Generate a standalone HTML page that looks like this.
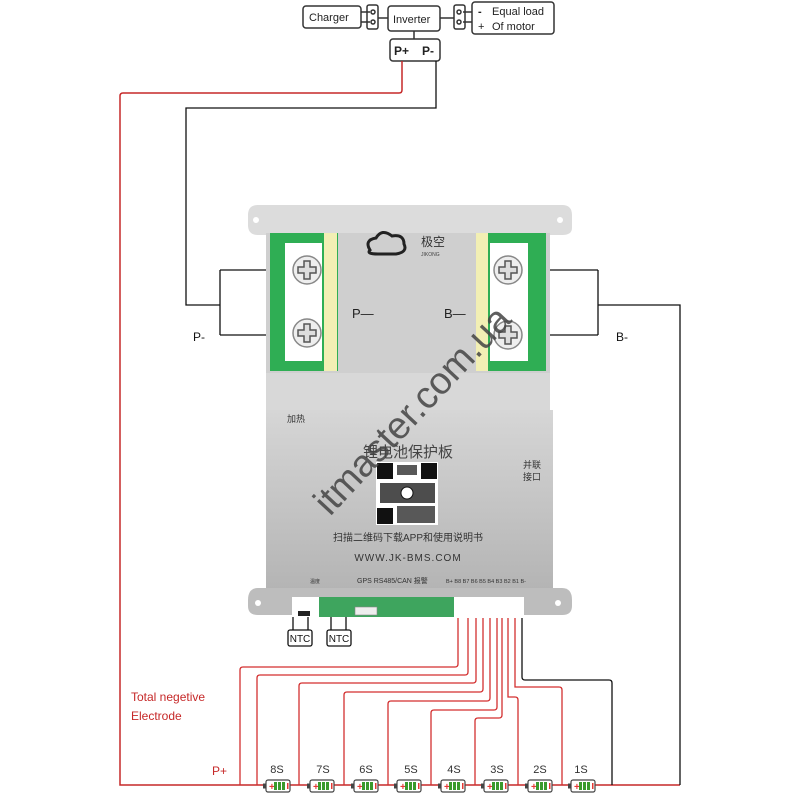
<!DOCTYPE html>
<html><head><meta charset="utf-8"><style>
html,body{margin:0;padding:0;background:#fff}
svg{display:block}
text{font-family:"Liberation Sans","Noto Sans CJK SC",sans-serif}
.s{font-family:"Liberation Serif","Noto Serif CJK SC",serif}
</style></head><body>
<svg width="800" height="800" viewBox="0 0 800 800" xmlns="http://www.w3.org/2000/svg">
<defs>
<linearGradient id="body" x1="0" y1="0" x2="0" y2="1"><stop offset="0" stop-color="#d6d6d6"/><stop offset="1" stop-color="#b4b4b4"/></linearGradient>
<g id="screw"><circle r="14" fill="#eee" stroke="#888" stroke-width="1.5"/><path d="M-3,-9 h6 v6 h6 v6 h-6 v6 h-6 v-6 h-6 v-6 h6z" fill="#ddd" stroke="#555" stroke-width="1.5"/></g>
<g id="bat"><rect x="-12" y="-6" width="24" height="12" rx="2" fill="#fff" stroke="#444" stroke-width="1.2"/><rect x="-15" y="-2.5" width="3" height="5" fill="#444"/><text x="-9" y="4" font-size="10" fill="#e53935" font-weight="bold">+</text><rect x="-4" y="-4" width="3" height="8" fill="#3a9a2c"/><rect x="0" y="-4" width="3" height="8" fill="#3a9a2c"/><rect x="4" y="-4" width="3" height="8" fill="#3a9a2c"/><rect x="9" y="-3" width="1.5" height="6" fill="#e53935"/></g>
</defs>

<!-- top diagram -->
<g stroke="#333" stroke-width="1.5" fill="#fff">
<rect x="303" y="6" width="58" height="22" rx="3"/>
<rect x="367" y="5" width="11" height="24" rx="2"/>
<rect x="388" y="6" width="52" height="25" rx="3"/>
<rect x="454" y="5" width="11" height="24" rx="2"/>
<rect x="472" y="2" width="82" height="32" rx="3"/>
<rect x="390" y="39" width="50" height="22" rx="3"/>
</g>
<g stroke="#333" stroke-width="1.5" fill="none">
<line x1="361" y1="12" x2="370" y2="12"/><line x1="361" y1="22" x2="370" y2="22"/>
<line x1="378" y1="18" x2="388" y2="18"/><line x1="440" y1="18" x2="454" y2="18"/>
<line x1="463" y1="12" x2="472" y2="12"/><line x1="463" y1="22" x2="472" y2="22"/>
<line x1="414" y1="31" x2="414" y2="39"/>
<circle cx="373" cy="12" r="2"/><circle cx="373" cy="22" r="2"/>
<circle cx="459" cy="12" r="2"/><circle cx="459" cy="22" r="2"/>
</g>
<g font-size="11" fill="#222">
<text x="309" y="21">Charger</text>
<text x="393" y="23">Inverter</text>
<text x="478" y="15" font-weight="bold">-</text><text x="492" y="15">Equal load</text>
<text x="478" y="30">+</text><text x="492" y="30">Of motor</text>
<text x="394" y="55" font-size="12" font-weight="bold">P+</text><text x="422" y="55" font-size="12" font-weight="bold">P-</text>
</g>

<!-- main wires -->
<path d="M402,61 V90 Q402,93 399,93 H123 Q120,93 120,96 V785 H680" stroke="#c62828" stroke-width="1.5" fill="none"/>
<path d="M436,61 V108 H186 V305 H220 M220,270 V335 M220,270 H300 M220,335 H300" stroke="#111" stroke-width="1.3" fill="none"/>
<path d="M598,270 V335 M515,270 H598 M515,335 H598 M598,305 H680 V785" stroke="#111" stroke-width="1.3" fill="none"/>
<text x="193" y="341" font-size="12" fill="#111">P-</text>
<text x="616" y="341" font-size="12" fill="#111">B-</text>

<!-- board -->
<path d="M258,205 H562 Q572,205 572,215 V228 Q572,235 562,235 H550 V590 H266 V235 H258 Q248,235 248,225 V215 Q248,205 258,205Z" fill="#dcdcdc"/>
<circle cx="256" cy="220" r="3" fill="#fff"/><circle cx="560" cy="220" r="3" fill="#fff"/>
<rect x="266" y="233" width="284" height="140" fill="#cfcfcf"/>
<rect x="270" y="233" width="68" height="138" fill="#2fae54"/>
<rect x="285" y="243" width="37" height="118" fill="#fff"/>
<rect x="324" y="233" width="13" height="138" fill="#f2efb4"/>
<rect x="476" y="233" width="70" height="138" fill="#2fae54"/>
<rect x="476" y="233" width="12" height="138" fill="#f2efb4"/>
<rect x="490" y="243" width="38" height="118" fill="#fff"/>
<use href="#screw" x="307" y="270"/><use href="#screw" x="307" y="333"/>
<use href="#screw" x="508" y="270"/><use href="#screw" x="508" y="335"/>
<text x="352" y="318" font-size="13" fill="#222">P—</text>
<text x="444" y="318" font-size="13" fill="#222">B—</text>
<path d="M370,250 q-6,-10 6,-12 q6,-10 16,-2 q12,-2 12,8 q4,8 -8,10 h-18 q-12,0 -8,-4z" fill="none" stroke="#222" stroke-width="3"/>
<text x="421" y="246" font-size="12" fill="#333">极空</text>
<text x="421" y="256" font-size="5" fill="#444">JIKONG</text>
<rect x="266" y="373" width="284" height="37" fill="#d8d8d8"/>
<rect x="266" y="410" width="287" height="180" fill="url(#body)"/>
<path d="M258,588 H562 Q572,588 572,600 V606 Q572,615 562,615 H258 Q248,615 248,606 V600 Q248,588 258,588Z" fill="#bdbdbd"/>
<circle cx="258" cy="603" r="3" fill="#fff"/><circle cx="558" cy="603" r="3" fill="#fff"/>
<rect x="292" y="597" width="162" height="20" fill="#3ea55e"/>
<rect x="292" y="597" width="27" height="20" fill="#fff"/>
<rect x="298" y="611" width="12" height="5" fill="#222"/>
<rect x="355" y="607" width="22" height="8" fill="#eee" stroke="#888" stroke-width=".6"/>
<rect x="454" y="597" width="70" height="22" fill="#fff"/>
<g class="s" fill="#333">
<text x="287" y="422" font-size="9">加热</text>
<text x="408" y="457" font-size="15" text-anchor="middle" fill="#444">锂电池保护板</text>
<text x="523" y="468" font-size="9">并联</text><text x="523" y="480" font-size="9">接口</text>
<text x="408" y="541" font-size="10" text-anchor="middle">扫描二维码下载APP和使用说明书</text>
<text x="310" y="583" font-size="5">温度</text>
<text x="357" y="583" font-size="7">GPS  RS485/CAN 报警</text>
<text x="446" y="583" font-size="5.5">B+ B8 B7 B6 B5 B4 B3 B2 B1 B-</text>
</g>
<text x="408" y="561" font-size="10" text-anchor="middle" fill="#333" letter-spacing="1">WWW.JK-BMS.COM</text>
<g fill="#111">
<rect x="376" y="462" width="62" height="63" fill="#fff"/>
<rect x="377" y="463" width="16" height="16"/><rect x="421" y="463" width="16" height="16"/><rect x="377" y="508" width="16" height="16"/>
<rect x="397" y="465" width="20" height="10" opacity=".7"/><rect x="380" y="483" width="55" height="20" opacity=".75"/><rect x="397" y="506" width="38" height="17" opacity=".7"/>
<circle cx="407" cy="493" r="6" fill="#fff" stroke="#111"/>
</g>
<text x="0" y="0" font-size="38" fill="#444" opacity=".85" transform="translate(330,517) rotate(-47)">itmaster.com.ua</text>

<!-- NTC -->
<g stroke="#111" stroke-width="1.3" fill="none">
<path d="M293,617 V630 M308,617 V630 M331,617 V630 M346,617 V630"/>
<rect x="288" y="630" width="24" height="16" rx="2" fill="#fff"/>
<rect x="327" y="630" width="24" height="16" rx="2" fill="#fff"/>
</g>
<text x="300" y="642" font-size="10" text-anchor="middle" fill="#111">NTC</text>
<text x="339" y="642" font-size="10" text-anchor="middle" fill="#111">NTC</text>

<!-- balance wires -->
<g stroke="#d32f2f" stroke-width="1.3" fill="none">
<path d="M458,618 V664 Q458,667 455,667 H243 Q240,667 240,670 V785"/>
<path d="M468,618 V672 Q468,675 465,675 H260 Q257,675 257,678 V785"/>
<path d="M476,618 V680 Q476,683 473,683 H302 Q299,683 299,686 V785"/>
<path d="M483,618 V689 Q483,692 480,692 H347 Q344,692 344,695 V785"/>
<path d="M490,618 V698 Q490,701 487,701 H391 Q388,701 388,704 V785"/>
<path d="M497,618 V707 Q497,710 494,710 H434 Q431,710 431,713 V785"/>
<path d="M502,618 V715 Q502,718 499,718 H478 Q475,718 475,721 V785"/>
<path d="M508,618 V697 H515 Q518,697 518,700 V785"/>
<path d="M515,618 V687 H559 Q562,687 562,690 V785"/>
</g>
<path d="M522,618 V677 Q522,680 525,680 H609 Q612,680 612,683 V785" stroke="#111" stroke-width="1.3" fill="none"/>
<text x="131" y="701" font-size="12" fill="#c62828">Total negetive</text>
<text x="131" y="720" font-size="12" fill="#c62828">Electrode</text>
<text x="212" y="775" font-size="12" fill="#c62828">P+</text>
<g font-size="11" fill="#333" text-anchor="middle">
<text x="277" y="773">8S</text><text x="323" y="773">7S</text><text x="366" y="773">6S</text><text x="411" y="773">5S</text>
<text x="454" y="773">4S</text><text x="497" y="773">3S</text><text x="540" y="773">2S</text><text x="581" y="773">1S</text>
</g>
<use href="#bat" x="278" y="786"/><use href="#bat" x="322" y="786"/><use href="#bat" x="366" y="786"/><use href="#bat" x="409" y="786"/>
<use href="#bat" x="453" y="786"/><use href="#bat" x="496" y="786"/><use href="#bat" x="540" y="786"/><use href="#bat" x="583" y="786"/>
</svg>
</body></html>
